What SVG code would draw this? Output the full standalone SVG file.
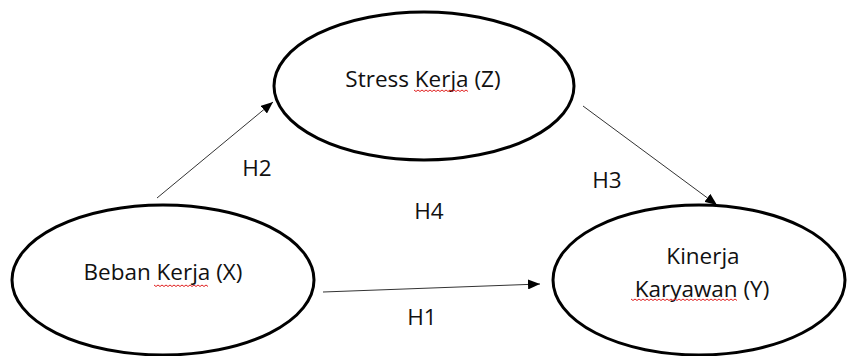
<svg xmlns="http://www.w3.org/2000/svg" width="847" height="356" viewBox="0 0 847 356">
<style>
.node{fill:#fff;stroke:#000;stroke-width:3}
.lbl{font-family:"Open Sans","Liberation Sans",sans-serif;font-size:22.5px;fill:#111;text-anchor:middle}
.edge{stroke:#333;stroke-width:1;fill:none}
.sq{stroke:#e02020;stroke-width:1;fill:none}
</style>
<defs>
<marker id="ah" viewBox="0 0 12 10" refX="12" refY="5" markerWidth="12" markerHeight="10" markerUnits="userSpaceOnUse" orient="auto">
<path d="M0,0 L12,5 L0,10 Z" fill="#000"/>
</marker>
</defs>
<rect width="847" height="356" fill="#fff"/>
<g id="connectors">
<line class="edge" x1="157" y1="198" x2="273" y2="102" marker-end="url(#ah)"/>
<line class="edge" x1="583" y1="106" x2="717" y2="205" marker-end="url(#ah)"/>
<line class="edge" x1="323" y1="292" x2="540" y2="284" marker-end="url(#ah)"/>
</g>
<g id="Z">
<ellipse class="node" cx="424" cy="86" rx="150" ry="74"/>
<text class="lbl" x="423" y="87">Stress Kerja (Z)</text>
<path class="sq" d="M414,90 l2,1.5 l2,-1.5 l2,1.5 l2,-1.5 l2,1.5 l2,-1.5 l2,1.5 l2,-1.5 l2,1.5 l2,-1.5 l2,1.5 l2,-1.5 l2,1.5 l2,-1.5 l2,1.5 l2,-1.5 l2,1.5 l2,-1.5 l2,1.5 l2,-1.5 l2,1.5 l2,-1.5 l2,1.5 l2,-1.5 l2,1.5 l2,-1.5 l2,1.5"/>
</g>
<g id="X">
<ellipse class="node" cx="163" cy="280" rx="151" ry="75"/>
<text class="lbl" x="163" y="280">Beban Kerja (X)</text>
<path class="sq" d="M154,285 l2,1.5 l2,-1.5 l2,1.5 l2,-1.5 l2,1.5 l2,-1.5 l2,1.5 l2,-1.5 l2,1.5 l2,-1.5 l2,1.5 l2,-1.5 l2,1.5 l2,-1.5 l2,1.5 l2,-1.5 l2,1.5 l2,-1.5 l2,1.5 l2,-1.5 l2,1.5 l2,-1.5 l2,1.5 l2,-1.5 l2,1.5 l2,-1.5 l2,1.5"/>
</g>
<g id="Y">
<ellipse class="node" cx="699" cy="280" rx="146" ry="75"/>
<text class="lbl" x="703" y="264">Kinerja</text>
<text class="lbl" x="702" y="297">Karyawan (Y)</text>
<path class="sq" d="M631,299 l2,1.5 l2,-1.5 l2,1.5 l2,-1.5 l2,1.5 l2,-1.5 l2,1.5 l2,-1.5 l2,1.5 l2,-1.5 l2,1.5 l2,-1.5 l2,1.5 l2,-1.5 l2,1.5 l2,-1.5 l2,1.5 l2,-1.5 l2,1.5 l2,-1.5 l2,1.5 l2,-1.5 l2,1.5 l2,-1.5 l2,1.5 l2,-1.5 l2,1.5 l2,-1.5 l2,1.5 l2,-1.5 l2,1.5 l2,-1.5 l2,1.5 l2,-1.5 l2,1.5 l2,-1.5 l2,1.5 l2,-1.5 l2,1.5 l2,-1.5 l2,1.5 l2,-1.5 l2,1.5 l2,-1.5 l2,1.5 l2,-1.5 l2,1.5 l2,-1.5 l2,1.5 l2,-1.5 l2,1.5 l2,-1.5 l2,1.5"/>
</g>
<g id="labels">
<text class="lbl" x="257" y="176">H2</text>
<text class="lbl" x="607" y="188">H3</text>
<text class="lbl" x="429" y="219">H4</text>
<text class="lbl" x="422" y="325">H1</text>
</g>
</svg>
